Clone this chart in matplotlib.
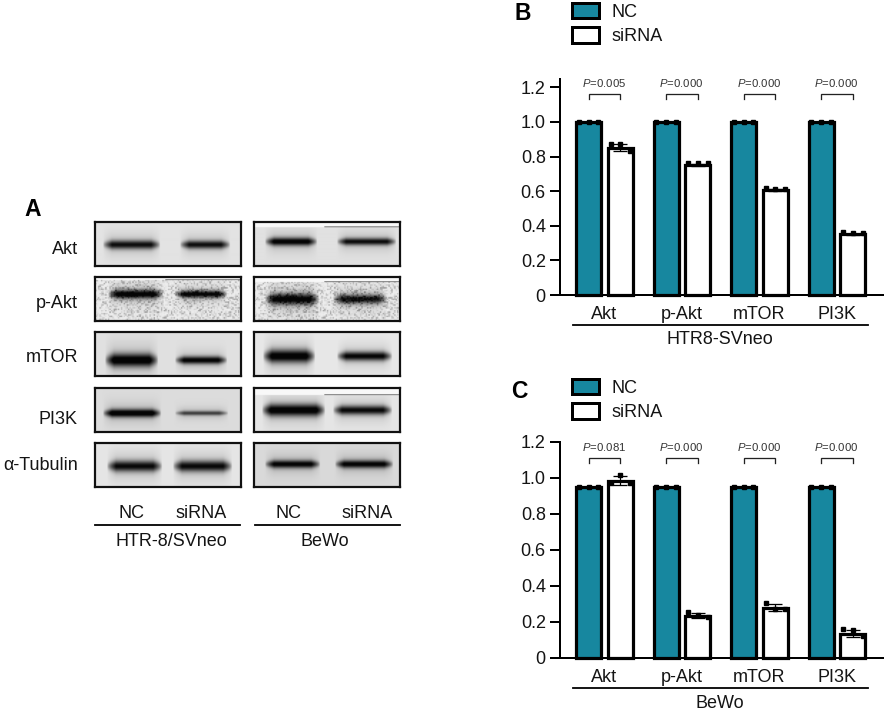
"""Western blot panels plus NC / siRNA bar charts (panels A, B, C)."""
import matplotlib
matplotlib.use('Agg')
import matplotlib.pyplot as plt
import numpy as np
from matplotlib.patches import Patch

plt.rcParams['font.family'] = ['Liberation Sans', 'DejaVu Sans']
plt.rcParams['mathtext.fontset'] = 'custom'
plt.rcParams['mathtext.it'] = 'Liberation Sans:italic'
plt.rcParams['mathtext.rm'] = 'Liberation Sans'

W, H = 886, 712
PT = 0.72  # points per pixel at dpi=100
TEAL = '#17879f'
INK = '#141414'

# bar data
CATEGORIES = ['Akt', 'p-Akt', 'mTOR', 'PI3K']
GROUPS = ['NC', 'siRNA']
Y_TICKS = [0, 0.2, 0.4, 0.6, 0.8, 1.0, 1.2]
Y_TICK_LABELS = ['0', '0.2', '0.4', '0.6', '0.8', '1.0', '1.2']

b_nc = [1.0, 1.0, 1.0, 1.0]
b_si = [0.85, 0.75, 0.605, 0.35]
b_nc_pts = [[1.0, 1.0, 1.0]] * 4
b_si_pts = [[0.87, 0.87, 0.83], [0.765, 0.765, 0.765],
            [0.62, 0.61, 0.61], [0.365, 0.36, 0.36]]
b_si_err = [0.02, 0.005, 0.005, 0.005]
b_pvals = ['0.005', '0.000', '0.000', '0.000']

c_nc = [0.95, 0.95, 0.95, 0.95]
c_si = [0.985, 0.235, 0.28, 0.135]
c_nc_pts = [[0.95, 0.95, 0.95]] * 4
c_si_pts = [[0.97, 1.015, 0.975], [0.255, 0.24, 0.23],
            [0.305, 0.275, 0.27], [0.16, 0.155, 0.125]]
c_si_err = [0.025, 0.015, 0.02, 0.02]
c_pvals = ['0.081', '0.000', '0.000', '0.000']

# blot data
BLOT_ROWS = ['Akt', 'p-Akt', 'mTOR', 'PI3K', 'α-Tubulin']
htr_strength = [[0.72, 0.72], [0.85, 0.80], [0.85, 0.78], [0.85, 0.50], [0.75, 0.75]]
htr_thick = [[4.2, 3.9], [4.4, 3.6], [6.5, 3.8], [4.0, 2.2], [5.4, 5.4]]
bewo_strength = [[0.80, 0.72], [0.82, 0.72], [0.85, 0.78], [0.85, 0.75], [0.75, 0.75]]
bewo_thick = [[3.9, 3.4], [5.6, 4.5], [6.5, 4.5], [6.0, 4.5], [3.9, 3.9]]
htr_bg = [0.89, 0.93, 0.88, 0.86, 0.90]
bewo_bg = [0.88, 0.93, 0.91, 0.90, 0.85]
htr_strip = [0, 3, 0, 0, 0]
bewo_strip = [6, 5, 0, 7, 0]
GRAINY_ROW = 1

# layout of blots, in pixels
ROW_TOPS = [222, 277, 332, 388, 443]
ROW_H = 44
COL_LEFTS = [95, 254]
COL_W = 146
HTR_BANDS = [((8, 65), (85, 135), 23), ((13, 68), (80, 132), 17),
             ((10, 63), (80, 132), 28), ((8, 66), (80, 133), 25),
             ((12, 67), (78, 137), 23)]
BEWO_BANDS = [((11, 63), (83, 142), 20), ((11, 65), (79, 133), 22),
              ((9, 61), (83, 138), 24), ((8, 71), (79, 138), 22),
              ((11, 66), (81, 139), 21)]


def px_axes(fig, left, top, right, bottom, **kw):
    return fig.add_axes([left / W, 1 - bottom / H, (right - left) / W,
                         (bottom - top) / H], **kw)


def blot_image(bands, strength, thick, bg, strip, grainy):
    yy, xx = np.mgrid[0:ROW_H * 3, 0:COL_W * 3] / 3.0
    img = np.full(xx.shape, float(bg))
    if grainy:
        # fixed film grain, blocks of about 1.5 px
        gx, gy = np.floor(xx * 0.7), np.floor(yy * 0.7)
        grain = np.modf(np.abs(np.sin(gx * 12.9898 + gy * 78.233)) * 43758.5453)[0]
        img -= (grain ** 3) * 0.3
    x0a, x1a, yc = bands[0][0], bands[0][1], bands[2]
    x0b, x1b = bands[1]
    for (x0, x1), s, t in zip([(x0a, x1a), (x0b, x1b)], strength, thick):
        taper = np.clip((xx - x0) / 9, 0, 1) * np.clip((x1 - xx) / 9, 0, 1)
        taper = taper ** 0.6
        core = np.exp(-(np.abs(yy - yc) / (t * (0.55 + 0.45 * taper) + 0.01)) ** 2.0)
        halo = np.exp(-((yy - yc) / (t * 2.8)) ** 2)
        img -= taper * (s * core + 0.12 * halo)
    if strip:
        img[yy < strip] = 0.97
        img[(yy >= strip - 0.7) & (yy < strip) & (xx > 70)] = 0.25
    return np.clip(img, 0.02, 1)


def draw_blots(fig):
    panels = [(COL_LEFTS[0], HTR_BANDS, htr_strength, htr_thick, htr_bg, htr_strip),
              (COL_LEFTS[1], BEWO_BANDS, bewo_strength, bewo_thick, bewo_bg, bewo_strip)]
    for left, bands, strength, thick, bg, strips in panels:
        for i, top in enumerate(ROW_TOPS):
            ax = px_axes(fig, left, top, left + COL_W, top + ROW_H)
            ax.imshow(blot_image(bands[i], strength[i], thick[i], bg[i], strips[i],
                                 i == GRAINY_ROW),
                      cmap='gray', vmin=0, vmax=1, aspect='auto',
                      extent=(0, COL_W, ROW_H, 0), interpolation='bilinear')
            ax.set_xticks([])
            ax.set_yticks([])
            for s in ax.spines.values():
                s.set_linewidth(2.2 * PT)
                s.set_color('#111111')


def draw_bars(fig, top, bottom, unit, nc, si, nc_pts, si_pts, si_err, pvals,
              brk_y, brk_leg, p_y, legend_top):
    # group 0 is centred at 604.5 px, groups are 77.5 px apart
    ax = px_axes(fig, 560, top, 883, bottom)
    ax.set_xlim((560 - 604.5) / 77.5, (883 - 604.5) / 77.5)
    ax.set_ylim(0, (bottom - top) / unit)
    x = np.arange(len(CATEGORIES))
    off = 0.205
    width = 0.325
    ax.bar(x - off, nc, width, color=TEAL, edgecolor='black',
           linewidth=3.2 * PT, zorder=2, clip_on=False)
    ax.bar(x + off, si, width, color='white', edgecolor='black',
           linewidth=3.2 * PT, zorder=2, clip_on=False)
    jitter = [-0.125, 0, 0.125]
    for i in x:
        ax.plot(i - off + np.array(jitter), nc_pts[i], 's', color='black',
                ms=5 * PT, zorder=3, clip_on=False)
        ax.plot(i + off + np.array(jitter), si_pts[i], 's', color='black',
                ms=5 * PT, zorder=3, clip_on=False)
        ax.errorbar(i + off, si[i], yerr=si_err[i], color='black', capsize=7 * PT,
                    elinewidth=1.2 * PT, capthick=1.3 * PT, zorder=3)
        # P value bracket
        xl, xr = i - off, i + off
        ax.plot([xl, xl, xr, xr], [brk_y - brk_leg, brk_y, brk_y, brk_y - brk_leg],
                color='#222222', lw=1.3 * PT, clip_on=False, solid_joinstyle='miter')
        ax.text(i - 0.01, p_y, '$\\mathit{P}$=' + pvals[i], ha='center', va='center',
                fontsize=8.2, color='#333333')

    ax.set_yticks(Y_TICKS)
    ax.set_yticklabels(Y_TICK_LABELS, fontsize=13, color=INK)
    ax.set_xticks(x)
    ax.set_xticklabels(CATEGORIES, fontsize=13, color=INK)
    ax.tick_params(axis='y', length=10 * PT, width=2 * PT, pad=3)
    ax.tick_params(axis='x', length=0, pad=8)
    ax.patch.set_alpha(0)
    for s in ['top', 'right']:
        ax.spines[s].set_visible(False)
    for s in ['left', 'bottom']:
        ax.spines[s].set_linewidth(2 * PT)
        ax.spines[s].set_zorder(4)

    handles = [Patch(facecolor=TEAL, edgecolor='black', linewidth=3 * PT, label=GROUPS[0]),
               Patch(facecolor='white', edgecolor='black', linewidth=3 * PT, label=GROUPS[1])]
    fig.legend(handles=handles, loc='upper left', frameon=False, fontsize=13,
               bbox_to_anchor=(572 / W, 1 - legend_top / H), borderpad=0, borderaxespad=0,
               handlelength=1.5, handleheight=0.92, handletextpad=0.68,
               labelspacing=0.36, labelcolor=INK)


def draw_text(fig):
    ov = fig.add_axes([0, 0, 1, 1], zorder=10)
    ov.set_xlim(0, W)
    ov.set_ylim(H, 0)
    ov.axis('off')

    for s, xp, yp in [('A', 24, 209), ('B', 515, 13), ('C', 511, 391)]:
        ov.text(xp, yp, s, fontsize=16.5, fontweight='bold', color='black',
                ha='left', va='center')
    for name, yp in zip(BLOT_ROWS, [250, 303, 357, 419, 466]):
        ov.text(78, yp, name, fontsize=13, color=INK, ha='right', va='center')

    def label(xp, yp, s):
        ov.text(xp, yp, s, fontsize=13, color=INK, ha='center', va='center')

    label(132, 513, GROUPS[0])
    label(201, 513, GROUPS[1])
    label(289, 513, GROUPS[0])
    label(367, 513, GROUPS[1])
    label(171, 541, 'HTR-8/SVneo')
    label(325, 541, 'BeWo')
    label(720, 340, 'HTR8-SVneo')
    label(720, 703, 'BeWo')
    for x0, x1, yp in [(95, 240, 525), (255, 400, 525), (573, 868, 325), (573, 868, 688)]:
        ov.plot([x0, x1], [yp, yp], color='black', lw=1.8 * PT)


def main():
    fig = plt.figure(figsize=(W / 100, H / 100), dpi=100, facecolor='white')
    draw_blots(fig)
    draw_bars(fig, 79, 295, 173, b_nc, b_si, b_nc_pts, b_si_pts, b_si_err, b_pvals,
              1.162, 0.03, 1.225, 3)
    draw_bars(fig, 442, 658, 180, c_nc, c_si, c_nc_pts, c_si_pts, c_si_err, c_pvals,
              1.113, 0.028, 1.172, 379)
    draw_text(fig)
    fig.savefig('out.png', dpi=100)
    plt.close(fig)


if __name__ == '__main__':
    main()
